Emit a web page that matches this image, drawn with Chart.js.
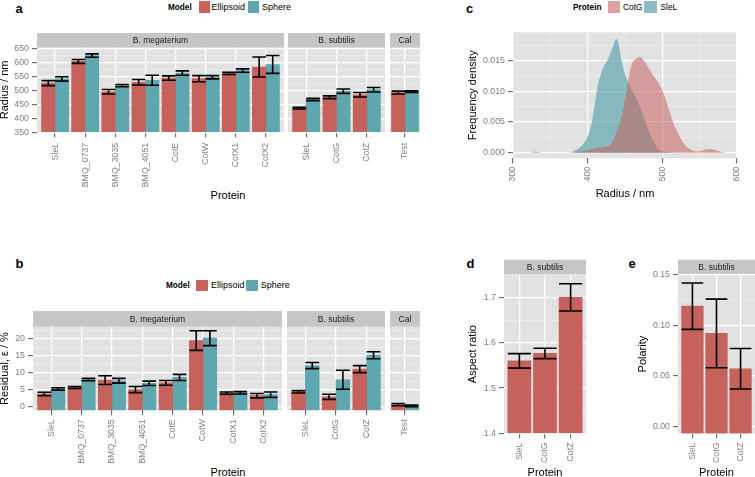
<!DOCTYPE html>
<html>
<head>
<meta charset="utf-8">
<script src="https://cdn.jsdelivr.net/npm/chart.js@4"></script>
<style>
html, body { margin: 0; padding: 0; width: 755px; height: 477px; overflow: hidden; background: #fff; }
body { position: relative; font-family: "Liberation Sans", Arial, sans-serif; }
canvas { position: absolute; display: block; }
.t { position: absolute; white-space: nowrap; line-height: 1; color: #000; }
.k { position: absolute; }
</style>
</head>
<body>
<div class="t" style="left:15.5px;top:2.3px;font-weight:bold;font-size:13px">a</div>
<div class="t" style="left:15.5px;top:256.7px;font-weight:bold;font-size:13px">b</div>
<div class="t" style="left:466px;top:1.7px;font-weight:bold;font-size:13px">c</div>
<div class="t" style="left:466.5px;top:256.5px;font-weight:bold;font-size:13px">d</div>
<div class="t" style="left:628.5px;top:257px;font-weight:bold;font-size:13px">e</div>

<div class="t" style="left:168px;top:3.6px;font-weight:bold;font-size:8.2px">Model</div>
<div class="k" style="left:199px;top:1px;width:11px;height:11.5px;background:#C6625C"></div>
<div class="t" style="left:211.5px;top:2.9px;font-size:9px">Ellipsoid</div>
<div class="k" style="left:248px;top:1px;width:11px;height:11.5px;background:#5FA7AF"></div>
<div class="t" style="left:262px;top:2.9px;font-size:9px">Sphere</div>

<div class="t" style="left:166px;top:281.6px;font-weight:bold;font-size:8.2px">Model</div>
<div class="k" style="left:196px;top:279.5px;width:12px;height:11.5px;background:#C6625C"></div>
<div class="t" style="left:211px;top:280.9px;font-size:9px">Ellipsoid</div>
<div class="k" style="left:246px;top:279.5px;width:11.5px;height:11.5px;background:#5FA7AF"></div>
<div class="t" style="left:260.7px;top:280.9px;font-size:9px">Sphere</div>

<div class="t" style="left:573px;top:3px;font-weight:bold;font-size:8.3px">Protein</div>
<div class="k" style="left:607.7px;top:0.5px;width:12.3px;height:12px;background:#DAA2A0"></div>
<div class="t" style="left:623px;top:2.9px;font-size:8.4px">CotG</div>
<div class="k" style="left:644.3px;top:0.5px;width:13px;height:12px;background:#8BBDC2"></div>
<div class="t" style="left:660.5px;top:2.9px;font-size:8.4px">SleL</div>

<div class="t" style="left:228px;top:190px;font-size:11px;transform:translateX(-50%)">Protein</div>
<div class="t" style="left:228px;top:467.2px;font-size:11px;transform:translateX(-50%)">Protein</div>

<script>
// categories
const megCats = ['SleL', 'BMQ_0737', 'BMQ_3035', 'BMQ_4051', 'CotE', 'CotW', 'CotX1', 'CotX2'];
const subCats = ['SleL', 'CotG', 'CotZ'];
const calCats = ['Test'];

// a: radius (nm), mean and half error bar
const radMegEll = [527, 605, 496, 530, 545, 543, 562, 585];
const radMegEllErr = [9, 7, 8, 10, 8, 11, 4, 36];
const radMegSph = [542, 626, 518, 537, 563, 548, 572, 594];
const radMegSphErr = [8, 6, 4, 18, 8, 6, 6, 32];
const radSubEll = [437, 476, 485];
const radSubEllErr = [3, 5, 8];
const radSubSph = [468, 498, 503];
const radSubSphErr = [4, 8, 8];
const radCalEll = [493];
const radCalEllErr = [5];
const radCalSph = [496];
const radCalSphErr = [3];

// b: residual (%)
const resMegEll = [3.7, 5.6, 7.8, 5.0, 7.0, 19.5, 3.95, 3.2];
const resMegEllErr = [0.5, 0.3, 1.3, 0.9, 0.7, 2.9, 0.35, 0.65];
const resMegSph = [5.2, 7.95, 7.6, 6.85, 8.6, 20.2, 4.05, 3.5];
const resMegSphErr = [0.35, 0.35, 0.7, 0.65, 0.9, 2.2, 0.35, 0.8];
const resSubEll = [4.35, 2.85, 11.05];
const resSubEllErr = [0.35, 0.75, 1.05];
const resSubSph = [12.1, 7.9, 15.15];
const resSubSphErr = [0.9, 2.8, 1.05];
const resCalEll = [0.55];
const resCalEllErr = [0.35];
const resCalSph = [0.15];
const resCalSphErr = [0.25];

// c: density curves
const cotgRadius = [380, 394, 405, 416, 425, 432, 438, 445, 449.5, 454, 458.5, 464, 470, 474, 481, 487.5, 494, 501, 507.5, 514, 521, 528, 537, 545.5, 554, 563, 572, 583, 590];
const cotgDensity = [0, 0.0003, 0.0006, 0.0008, 0.001, 0.0016, 0.0032, 0.0056, 0.0083, 0.0115, 0.0142, 0.0152, 0.0156, 0.0152, 0.0139, 0.0126, 0.0115, 0.0099, 0.0075, 0.0051, 0.0032, 0.0016, 0.0006, 0.0002, 0.0004, 0.0006, 0.0004, 0.00005, 0];
const slelRadius = [322, 326, 330, 335, 340, 362, 376, 385, 394, 400, 405, 409, 414, 420, 427, 434, 438, 441, 445, 450, 456, 463, 470, 476, 483, 490, 496, 505, 519];
const slelDensity = [0, 0.0001, 0.0002, 0.0001, 0, 0, 0.00005, 0.0005, 0.0014, 0.0027, 0.0046, 0.0075, 0.0112, 0.0136, 0.0152, 0.0173, 0.0185, 0.0179, 0.0152, 0.0128, 0.011, 0.0094, 0.0075, 0.0054, 0.0032, 0.0014, 0.0005, 0.00016, 0];

// d, e
const aspect = [1.56, 1.5765, 1.70];
const aspectErr = [0.016, 0.0115, 0.03];
const polarity = [0.119, 0.092, 0.057];
const polarityErr = [0.023, 0.034, 0.02];

// ticks
const radTicks = [350, 400, 450, 500, 550, 600, 650];
const radMinor = [375, 425, 475, 525, 575, 625];
const resTicks = [0, 5, 10, 15, 20];
const resMinor = [2.5, 7.5, 12.5, 17.5, 22.5];
const denTicks = [0, 0.005, 0.010, 0.015];
const denMinor = [0.0025, 0.0075, 0.0125, 0.0175];
const cxTicks = [300, 400, 500, 600];
const cxMinor = [350, 450, 550];
const aspTicks = [1.4, 1.5, 1.6, 1.7];
const aspMinor = [1.45, 1.55, 1.65, 1.75];
const polTicks = [0, 0.05, 0.10, 0.15];
const polMinor = [0.025, 0.075, 0.125];

const RED = '#C6625C';
const TEAL = '#5FA7AF';
const PANEL = '#E2E2E2';
const STRIP = '#C6C6C6';
const MINOR = '#EFEFEF';
const FONT = '"Liberation Sans", Arial, sans-serif';

Chart.defaults.font.family = FONT;
Chart.defaults.animation = false;
Chart.defaults.events = [];
Chart.defaults.plugins.legend.display = false;
Chart.defaults.plugins.tooltip.enabled = false;

const ggPanel = {
  id: 'ggPanel',
  beforeDraw(chart, args, o) {
    const {ctx, chartArea: a} = chart;
    ctx.save();
    ctx.fillStyle = PANEL;
    ctx.fillRect(a.left, a.top, a.right - a.left, a.bottom - a.top);
    if (o.strip) {
      ctx.fillStyle = STRIP;
      ctx.fillRect(a.left, a.top - o.stripH, a.right - a.left, o.stripH);
      ctx.fillStyle = '#1A1A1A';
      ctx.font = '8.5px ' + FONT;
      ctx.textAlign = 'center';
      ctx.textBaseline = 'middle';
      ctx.fillText(o.strip, (a.left + a.right) / 2, a.top - o.stripH / 2 + 0.5);
    }
    ctx.restore();
  }
};

const errBars = {
  id: 'errBars',
  afterDatasetsDraw(chart) {
    const {ctx} = chart;
    const y = chart.scales.y;
    ctx.save();
    ctx.strokeStyle = '#000';
    ctx.lineWidth = 1.6;
    chart.data.datasets.forEach((ds, di) => {
      if (!ds.errors) return;
      chart.getDatasetMeta(di).data.forEach((bar, j) => {
        const v = ds.data[j].y, e = ds.errors[j];
        const yt = y.getPixelForValue(v + e), yb = y.getPixelForValue(v - e);
        const hw = bar.width / 2;
        ctx.beginPath();
        ctx.moveTo(bar.x - hw, yt); ctx.lineTo(bar.x + hw, yt);
        ctx.moveTo(bar.x, yt); ctx.lineTo(bar.x, yb);
        ctx.moveTo(bar.x - hw, yb); ctx.lineTo(bar.x + hw, yb);
        ctx.stroke();
      });
    });
    ctx.restore();
  }
};

Chart.register(ggPanel, errBars);

function makeCanvas(left, top, w, h) {
  const c = document.createElement('canvas');
  c.width = w; c.height = h;
  c.style.left = left + 'px'; c.style.top = top + 'px';
  c.style.width = w + 'px'; c.style.height = h + 'px';
  document.body.appendChild(c);
  return c;
}

function tickList(major, minor) {
  return major.map(v => ({value: v})).concat(minor.map(v => ({value: v, minor: true})))
    .sort((p, q) => p.value - q.value);
}

function yAxis(f) {
  const show = f.yW > 0;
  return {
    type: 'linear', min: f.y.min, max: f.y.max,
    afterBuildTicks: s => { s.ticks = tickList(f.y.major, f.y.minor).filter(t => t.value <= f.y.max && t.value >= f.y.min); },
    afterFit: s => { s.width = f.yW; s.paddingTop = 0; s.paddingBottom = 0; },
    border: {display: false},
    grid: {
      color: c => c.tick && c.tick.minor ? MINOR : '#fff',
      lineWidth: c => c.tick && c.tick.minor ? 0.8 : 1.3,
      drawTicks: show, tickLength: 5, tickWidth: 1,
      tickColor: c => c.tick && c.tick.minor ? 'rgba(0,0,0,0)' : '#555'
    },
    ticks: {
      display: show, autoSkip: false, padding: 3, color: '#7F7F7F', font: {size: 8.8},
      callback: (v, i, t) => t[i].minor ? '' : f.y.fmt(v)
    },
    title: {
      display: show && !!f.y.title, text: f.y.title, color: '#000',
      font: {size: 11, lineHeight: 1}, padding: {top: f.y.titlePad, bottom: 0}
    }
  };
}

function xTitle(f) {
  return f.xTitle
    ? {display: true, text: f.xTitle, color: '#000', font: {size: 11, lineHeight: 1}, padding: {top: 0, bottom: f.xTitlePad}}
    : {display: false};
}

function barFacet(f) {
  const cw = f.right - f.left;
  const ch = f.canvasBottom - f.canvasTop;
  const unit = (cw - f.yW) / (f.x1 - f.x0);
  const thick = unit * 0.9 / f.sets.length;
  return new Chart(makeCanvas(f.left, f.canvasTop, cw, ch), {
    type: 'bar',
    data: {
      datasets: f.sets.map(s => ({
        data: s.vals.map((v, i) => ({x: i, y: v})),
        errors: s.errs,
        backgroundColor: s.color,
        borderWidth: 0,
        barThickness: thick,
        base: f.y.min
      }))
    },
    options: {
      responsive: false,
      layout: {padding: {top: f.top - f.canvasTop, left: 0, right: 0, bottom: 0}},
      plugins: {ggPanel: {strip: f.strip, stripH: f.stripH}},
      scales: {
        x: {
          type: 'linear', min: f.x0, max: f.x1, offset: false,
          afterBuildTicks: s => { s.ticks = f.cats.map((c, i) => ({value: i})); },
          afterFit: s => { s.height = f.canvasBottom - f.bottom; s.paddingLeft = 0; s.paddingRight = 0; },
          border: {display: false},
          grid: {color: '#fff', lineWidth: 1.3, offset: false, tickLength: 5, tickColor: '#555', tickWidth: 1},
          ticks: {
            autoSkip: false, minRotation: 90, maxRotation: 90, padding: f.xPad,
            color: '#7F7F7F', font: {size: 8.8}, callback: v => f.cats[v]
          },
          title: xTitle(f)
        },
        y: yAxis(f)
      }
    }
  });
}

const fmtInt = v => String(v);
const radY = {min: 350, max: 655, major: radTicks, minor: radMinor, fmt: fmtInt, title: 'Radius / nm', titlePad: 1.0};
const resY = {min: -1.13, max: 23.6, major: resTicks, minor: resMinor, fmt: fmtInt, title: 'Residual, ε / %', titlePad: 1.0};

// panel a
const aRow = {canvasTop: 33, stripH: 14.5, top: 47.5, bottom: 132.3, canvasBottom: 190, xPad: 5.5, y: radY};
barFacet(Object.assign({}, aRow, {left: -2, right: 284, yW: 39, x0: -0.6, x1: 7.6, cats: megCats, strip: 'B. megaterium',
  sets: [{vals: radMegEll, errs: radMegEllErr, color: RED}, {vals: radMegSph, errs: radMegSphErr, color: TEAL}]}));
barFacet(Object.assign({}, aRow, {left: 288, right: 385, yW: 0, x0: -0.6, x1: 2.6, cats: subCats, strip: 'B. subtilis',
  sets: [{vals: radSubEll, errs: radSubEllErr, color: RED}, {vals: radSubSph, errs: radSubSphErr, color: TEAL}]}));
barFacet(Object.assign({}, aRow, {left: 390, right: 420, yW: 0, x0: -0.5, x1: 0.5, cats: calCats, strip: 'Cal',
  sets: [{vals: radCalEll, errs: radCalEllErr, color: RED}, {vals: radCalSph, errs: radCalSphErr, color: TEAL}]}));

// panel b
const bRow = {canvasTop: 311, stripH: 15.7, top: 326.7, bottom: 410.3, canvasBottom: 466, xPad: 4, y: resY};
barFacet(Object.assign({}, bRow, {left: -2, right: 282, yW: 35, x0: -0.6, x1: 7.6, cats: megCats, strip: 'B. megaterium',
  sets: [{vals: resMegEll, errs: resMegEllErr, color: RED}, {vals: resMegSph, errs: resMegSphErr, color: TEAL}]}));
barFacet(Object.assign({}, bRow, {left: 287, right: 385, yW: 0, x0: -0.6, x1: 2.6, cats: subCats, strip: 'B. subtilis',
  sets: [{vals: resSubEll, errs: resSubEllErr, color: RED}, {vals: resSubSph, errs: resSubSphErr, color: TEAL}]}));
barFacet(Object.assign({}, bRow, {left: 390, right: 420, yW: 0, x0: -0.5, x1: 0.5, cats: calCats, strip: 'Cal',
  sets: [{vals: resCalEll, errs: resCalEllErr, color: RED}, {vals: resCalSph, errs: resCalSphErr, color: TEAL}]}));

// panel d
barFacet({canvasTop: 259, stripH: 15, top: 274.7, bottom: 433.5, canvasBottom: 480, xPad: 4, left: 466, right: 586, yW: 38,
  x0: -0.6, x1: 2.6, cats: subCats, strip: 'B. subtilis', xTitle: 'Protein', xTitlePad: 1.8,
  y: {min: 1.4, max: 1.75, major: aspTicks, minor: aspMinor, fmt: v => v.toFixed(1), title: 'Aspect ratio', titlePad: 1.9},
  sets: [{vals: aspect, errs: aspectErr, color: RED}]});

// panel e
barFacet({canvasTop: 259, stripH: 15, top: 274.7, bottom: 433.5, canvasBottom: 480, xPad: 4, left: 636, right: 755, yW: 42,
  x0: -0.6, x1: 2.6, cats: subCats, strip: 'B. subtilis', xTitle: 'Protein', xTitlePad: 1.8,
  y: {min: -0.00715, max: 0.1502, major: polTicks, minor: polMinor, fmt: v => v.toFixed(2), title: 'Polarity', titlePad: 1.9},
  sets: [{vals: polarity, errs: polarityErr, color: RED}]});

// panel c
const cF = {canvasTop: 30, top: 32.3, bottom: 158.3, canvasBottom: 202, left: 466, right: 747, padRight: 10, yW: 47,
  y: {min: -0.0009, max: 0.0196, major: denTicks, minor: denMinor, fmt: v => v.toFixed(3), title: 'Frequency density', titlePad: 1.9}};
new Chart(makeCanvas(cF.left, cF.canvasTop, cF.right - cF.left, cF.canvasBottom - cF.canvasTop), {
  type: 'line',
  data: {
    datasets: [
      {data: cotgRadius.map((r, i) => ({x: r, y: cotgDensity[i]})), backgroundColor: 'rgba(198,97,92,0.55)', fill: 'origin'},
      {data: slelRadius.map((r, i) => ({x: r, y: slelDensity[i]})), backgroundColor: 'rgba(95,166,174,0.7)', fill: 'origin'}
    ]
  },
  options: {
    responsive: false,
    layout: {padding: {top: cF.top - cF.canvasTop, left: 0, right: cF.padRight, bottom: 0}},
    elements: {line: {borderWidth: 0, cubicInterpolationMode: 'monotone'}, point: {radius: 0}},
    scales: {
      x: {
        type: 'linear', min: 300, max: 600,
        afterBuildTicks: s => { s.ticks = tickList(cxTicks, cxMinor); },
        afterFit: s => { s.height = cF.canvasBottom - cF.bottom; s.paddingLeft = 0; s.paddingRight = 0; },
        border: {display: false},
        grid: {
          color: c => c.tick && c.tick.minor ? MINOR : '#fff',
          lineWidth: c => c.tick && c.tick.minor ? 0.8 : 1.3,
          tickLength: 5, tickWidth: 1,
          tickColor: c => c.tick && c.tick.minor ? 'rgba(0,0,0,0)' : '#555'
        },
        ticks: {
          autoSkip: false, minRotation: 90, maxRotation: 90, padding: 3.4, color: '#7F7F7F', font: {size: 8.8},
          callback: (v, i, t) => t[i].minor ? '' : String(v)
        },
        title: {display: true, text: 'Radius / nm', color: '#000', font: {size: 11, lineHeight: 1}, padding: {top: 0, bottom: 2.3}}
      },
      y: yAxis(cF)
    }
  }
});
</script>
</body>
</html>
